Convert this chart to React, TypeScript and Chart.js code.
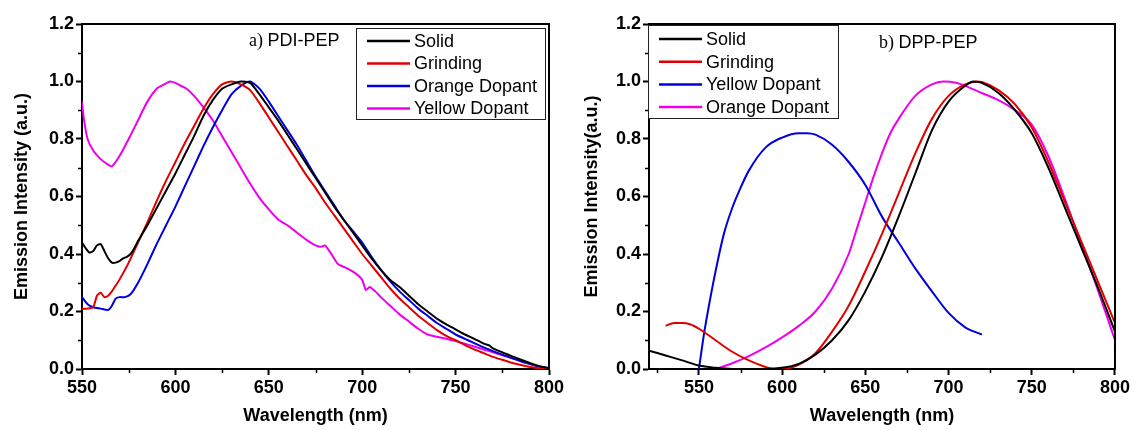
import React, { useEffect, useRef } from 'react';
import { Chart, registerables } from 'chart.js';
Chart.register(...registerables);

// ---------- Panel a) PDI-PEP ----------
const aSolidX = [550,552,554,556,558,560,562,564,566,568,570,572,574,576,578,580,585,590,595,600,605,610,615,620,625,630,635,640,645,650,655,660,665,670,675,680,685,690,695,700,705,710,715,720,725,730,735,740,745,750,755,760,765,768,770,775,780,785,790,795,800];
const aSolidY = [0.44,0.42,0.405,0.41,0.43,0.435,0.41,0.385,0.37,0.37,0.375,0.385,0.39,0.40,0.42,0.445,0.50,0.56,0.62,0.68,0.745,0.81,0.88,0.935,0.975,0.99,1.0,0.995,0.955,0.91,0.865,0.815,0.765,0.715,0.665,0.615,0.565,0.52,0.475,0.43,0.385,0.345,0.31,0.285,0.255,0.225,0.2,0.175,0.155,0.138,0.12,0.105,0.088,0.082,0.072,0.058,0.045,0.032,0.02,0.01,0.003];

const aGrindX = [550,553,556,558,560,562,564,566,568,570,575,580,585,590,595,600,605,610,615,620,625,630,635,640,645,650,655,660,665,670,675,680,685,690,695,700,705,710,715,720,725,730,735,740,745,750,755,760,765,770,775,780,785,790,795,800];
const aGrindY = [0.21,0.21,0.215,0.255,0.265,0.25,0.255,0.27,0.29,0.31,0.37,0.44,0.51,0.585,0.655,0.72,0.785,0.845,0.905,0.955,0.99,1.0,0.99,0.97,0.925,0.875,0.825,0.775,0.725,0.675,0.63,0.58,0.535,0.49,0.445,0.40,0.36,0.32,0.28,0.245,0.215,0.185,0.16,0.135,0.115,0.1,0.083,0.068,0.055,0.042,0.032,0.022,0.014,0.007,0.002,0.0];

const aOrangeX = [550,553,556,560,564,566,568,570,573,576,580,585,590,595,600,605,610,615,620,625,630,635,640,645,650,655,660,665,670,675,680,685,690,695,700,705,710,715,720,725,730,735,740,745,750,755,760,765,770,775,780,785,790,795,800];
const aOrangeY = [0.25,0.225,0.215,0.21,0.205,0.22,0.245,0.25,0.25,0.26,0.30,0.365,0.435,0.50,0.565,0.635,0.705,0.775,0.84,0.90,0.955,0.985,1.0,0.975,0.93,0.88,0.83,0.78,0.725,0.67,0.62,0.57,0.52,0.48,0.44,0.39,0.345,0.305,0.27,0.24,0.21,0.185,0.16,0.14,0.12,0.105,0.09,0.075,0.062,0.05,0.038,0.027,0.017,0.008,0.003];

const aYellowX = [550,551,553,556,560,563,566,570,575,580,585,590,594,597,600,603,606,610,615,620,625,630,635,640,645,650,655,660,665,670,675,678,680,683,687,692,697,700,702,704,707,710,715,720,725,730,735,740,745,750,755,760,765,770,775,780,785,790,795,800];
const aYellowY = [0.93,0.87,0.80,0.76,0.73,0.715,0.705,0.74,0.80,0.865,0.93,0.975,0.99,1.0,0.995,0.985,0.975,0.95,0.91,0.865,0.81,0.755,0.70,0.645,0.595,0.555,0.52,0.50,0.475,0.45,0.43,0.425,0.43,0.405,0.365,0.35,0.33,0.31,0.275,0.285,0.27,0.25,0.22,0.19,0.165,0.14,0.12,0.112,0.105,0.097,0.088,0.078,0.068,0.058,0.048,0.038,0.027,0.017,0.008,0.002];

// ---------- Panel b) DPP-PEP ----------
const bSolidX = [520,530,540,550,560,570,580,590,600,610,620,630,640,650,660,670,680,690,700,710,715,720,730,740,750,760,770,780,790,800];
const bSolidY = [0.064,0.047,0.03,0.012,0.004,0.0,0.0,0.0,0.004,0.018,0.05,0.1,0.17,0.27,0.39,0.53,0.68,0.83,0.93,0.985,1.0,0.995,0.96,0.9,0.82,0.7,0.56,0.42,0.28,0.13];

const bGrindX = [530,535,540,545,550,560,570,580,590,595,600,605,610,620,630,640,650,660,670,680,690,700,710,717,720,730,740,750,760,770,780,790,800];
const bGrindY = [0.15,0.16,0.16,0.155,0.14,0.10,0.06,0.03,0.007,0.0,0.0,0.004,0.015,0.055,0.13,0.22,0.34,0.47,0.61,0.75,0.87,0.95,0.99,1.0,0.998,0.97,0.92,0.84,0.72,0.58,0.44,0.30,0.16];

const bYellowX = [550,553,556,560,565,570,575,580,590,600,610,615,620,630,640,650,660,670,680,690,700,710,720];
const bYellowY = [0.0,0.12,0.22,0.34,0.47,0.56,0.63,0.69,0.77,0.805,0.82,0.82,0.815,0.78,0.72,0.64,0.53,0.44,0.35,0.27,0.195,0.145,0.12];

const bOrangeX = [560,570,580,590,600,610,620,630,640,645,650,655,660,665,670,680,690,697,705,710,720,730,740,750,760,770,780,790,800];
const bOrangeY = [0.0,0.02,0.045,0.075,0.11,0.15,0.2,0.28,0.4,0.49,0.58,0.67,0.75,0.82,0.87,0.95,0.99,1.0,0.995,0.985,0.96,0.935,0.9,0.85,0.74,0.59,0.43,0.27,0.10];

// ---------- ticks ----------
const yTicks = [0, 0.2, 0.4, 0.6, 0.8, 1.0, 1.2];
const yMinor = [0.1, 0.3, 0.5, 0.7, 0.9, 1.1];
const aXTicks = [550, 600, 650, 700, 750, 800];
const aXMinor = [575, 625, 675, 725, 775];
const bXTicks = [550, 600, 650, 700, 750, 800];
const bXMinor = [525, 575, 625, 675, 725, 775];

const BLACK = '#000000';
const RED = '#e00000';
const BLUE = '#0000dd';
const MAGENTA = '#ee00ee';

const SANS = "'Liberation Sans', Arial, sans-serif";
const SERIF = "'Liberation Serif', 'Times New Roman', serif";

const pts = (xs: number[], ys: number[]) => xs.map((x, i) => ({ x, y: ys[i] }));

const decorPlugin = {
  id: 'decor',
  afterDraw(chart: any, _args: any, opts: any) {
    const ctx = chart.ctx;
    const { left, right, top, bottom } = chart.chartArea;
    const xs = chart.scales.x;
    const ys = chart.scales.y;
    ctx.save();
    ctx.strokeStyle = '#000';
    ctx.lineWidth = 2;
    ctx.beginPath();
    ctx.moveTo(left - 1, top);
    ctx.lineTo(right, top);
    ctx.lineTo(right, bottom + 1);
    ctx.stroke();
    ctx.lineWidth = 1.5;
    ctx.beginPath();
    for (const v of opts.xMinor) {
      const px = Math.round(xs.getPixelForValue(v)) + 0.5;
      ctx.moveTo(px, bottom);
      ctx.lineTo(px, bottom + 4);
    }
    for (const v of opts.yMinor) {
      const py = Math.round(ys.getPixelForValue(v)) + 0.5;
      ctx.moveTo(left, py);
      ctx.lineTo(left - 4, py);
    }
    ctx.stroke();

    const an = opts.annot;
    ctx.fillStyle = '#000';
    ctx.textBaseline = 'middle';
    ctx.textAlign = 'left';
    ctx.font = `18px ${SERIF}`;
    ctx.fillText(an.pre, an.x, an.y);
    const w = ctx.measureText(an.pre).width;
    ctx.font = `18px ${SANS}`;
    ctx.fillText(an.main, an.x + w, an.y);

    const lg = opts.legend;
    ctx.fillStyle = '#fff';
    ctx.fillRect(lg.x0, lg.y0, lg.x1 - lg.x0, lg.y1 - lg.y0);
    ctx.strokeStyle = '#222';
    ctx.lineWidth = 1;
    ctx.strokeRect(lg.x0 + 0.5, lg.y0 + 0.5, lg.x1 - lg.x0, lg.y1 - lg.y0);
    ctx.font = `18px ${SANS}`;
    chart.data.datasets.forEach((ds: any, i: number) => {
      const y = lg.row0 + i * lg.gap;
      ctx.strokeStyle = ds.borderColor;
      ctx.lineWidth = 2.5;
      ctx.beginPath();
      ctx.moveTo(lg.lx0, y);
      ctx.lineTo(lg.lx1, y);
      ctx.stroke();
      ctx.fillStyle = '#000';
      ctx.fillText(ds.label, lg.tx, y + 1);
    });
    ctx.restore();
  },
};

function makeConfig(p: any) {
  const tickFont = { family: SANS, size: 18, weight: 'bold' as const };
  const titleFont = { family: SANS, size: 18, weight: 'bold' as const };
  return {
    type: 'line',
    data: {
      datasets: p.series.map((s: any) => ({
        label: s.label,
        data: pts(s.x, s.y),
        borderColor: s.color,
        backgroundColor: s.color,
        borderWidth: 2,
        pointRadius: 0,
        fill: false,
        tension: p.tension,
        cubicInterpolationMode: p.monotone ? 'monotone' : 'default',
      })),
    },
    options: {
      animation: false,
      responsive: false,
      events: [],
      layout: { padding: { left: 0, top: 24, right: p.padRight, bottom: 0 }, autoPadding: false },
      plugins: {
        legend: { display: false },
        tooltip: { enabled: false },
        decor: { xMinor: p.xMinor, yMinor: yMinor, annot: p.annot, legend: p.legend },
      },
      scales: {
        x: {
          type: 'linear',
          min: p.xMin,
          max: 800,
          afterBuildTicks: (s: any) => { s.ticks = p.xTicks.map((v: number) => ({ value: v })); },
          afterFit: (s: any) => { s.height = 61; },
          ticks: { font: tickFont, color: '#000', padding: 2, maxRotation: 0, autoSkip: false, callback: (v: any) => String(v) },
          grid: { display: true, drawOnChartArea: false, drawTicks: true, tickLength: 6, tickWidth: 2, tickColor: '#000' },
          border: { display: true, color: '#000', width: 2 },
          title: { display: true, text: 'Wavelength (nm)', font: titleFont, color: '#000', padding: { top: 0, bottom: 3 } },
        },
        y: {
          type: 'linear',
          min: 0,
          max: 1.2,
          afterBuildTicks: (s: any) => { s.ticks = yTicks.map((v) => ({ value: v })); },
          afterFit: (s: any) => { s.width = p.yWidth; },
          ticks: { font: tickFont, color: '#000', padding: 2, autoSkip: false, callback: (v: any) => Number(v).toFixed(1) },
          grid: { display: true, drawOnChartArea: false, drawTicks: true, tickLength: 6, tickWidth: 2, tickColor: '#000' },
          border: { display: true, color: '#000', width: 2 },
          title: { display: true, text: p.yTitle, font: titleFont, color: '#000', padding: { top: 11, bottom: 0 } },
        },
      },
    },
    plugins: [decorPlugin],
  };
}

const panelA = {
  xMin: 550,
  xTicks: aXTicks,
  xMinor: aXMinor,
  yWidth: 82,
  padRight: 21,
  tension: 0.2,
  monotone: false,
  yTitle: 'Emission Intensity (a.u.)',
  annot: { pre: 'a) ', main: 'PDI-PEP', x: 249, y: 41 },
  legend: { x0: 356, y0: 28, x1: 545, y1: 119, lx0: 367, lx1: 410, tx: 414, row0: 41, gap: 22.5 },
  series: [
    { label: 'Solid', x: aSolidX, y: aSolidY, color: BLACK },
    { label: 'Grinding', x: aGrindX, y: aGrindY, color: RED },
    { label: 'Orange Dopant', x: aOrangeX, y: aOrangeY, color: BLUE },
    { label: 'Yellow Dopant', x: aYellowX, y: aYellowY, color: MAGENTA },
  ],
};

const panelB = {
  xMin: 520,
  xTicks: bXTicks,
  xMinor: bXMinor,
  yWidth: 79,
  padRight: 17,
  tension: 0.4,
  monotone: true,
  yTitle: 'Emission Intensity(a.u.)',
  annot: { pre: 'b) ', main: 'DPP-PEP', x: 309, y: 43 },
  legend: { x0: 78, y0: 25, x1: 268, y1: 118, lx0: 89, lx1: 132, tx: 136, row0: 39, gap: 22.7 },
  series: [
    { label: 'Solid', x: bSolidX, y: bSolidY, color: BLACK },
    { label: 'Grinding', x: bGrindX, y: bGrindY, color: RED },
    { label: 'Yellow Dopant', x: bYellowX, y: bYellowY, color: BLUE },
    { label: 'Orange Dopant', x: bOrangeX, y: bOrangeY, color: MAGENTA },
  ],
};

function Panel({ cfg, left, width }: { cfg: any; left: number; width: number }) {
  const ref = useRef<HTMLCanvasElement>(null);
  useEffect(() => {
    if (!ref.current) return;
    const chart = new Chart(ref.current, makeConfig(cfg) as any);
    return () => chart.destroy();
  }, [cfg]);
  return (
    <canvas
      ref={ref}
      width={width}
      height={430}
      style={{ position: 'absolute', left, top: 0, width, height: 430, display: 'block' }}
    />
  );
}

export default function App() {
  return (
    <div style={{ position: 'fixed', left: 0, top: 0, width: 1132, height: 430, background: '#fff', overflow: 'hidden' }}>
      <Panel cfg={panelA} left={0} width={570} />
      <Panel cfg={panelB} left={570} width={562} />
    </div>
  );
}
